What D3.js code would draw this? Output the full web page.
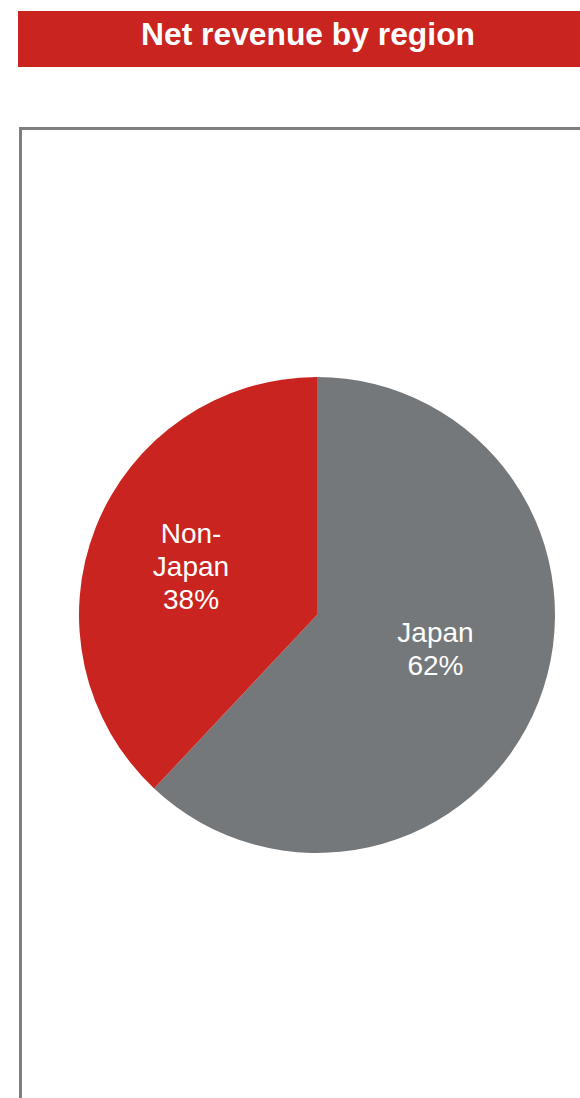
<!DOCTYPE html>
<html>
<head>
<meta charset="utf-8">
<script src="https://cdn.jsdelivr.net/npm/d3@7"></script>
<style>
  html, body { margin: 0; padding: 0; background: #fff; }
  svg { display: block; }
</style>
</head>
<body>
<svg id="chart" width="580" height="1098"></svg>
<script>
// Net revenue split by region (percent of total)
const regions = ["Japan", "Non-Japan"];
const shares = [62, 38];
const labelLines = [["Japan", "62%"], ["Non-", "Japan", "38%"]];
const sliceColors = ["#75787b", "#c9241f"];

const svg = d3.select("#chart");
const W = 580, H = 1098;
const FONT = "'Liberation Sans', Arial, Helvetica, sans-serif";

// Title banner
svg.append("rect")
  .attr("x", 18).attr("y", 11)
  .attr("width", W - 18).attr("height", 56)
  .attr("fill", "#c9241f");
svg.append("text")
  .attr("x", 308).attr("y", 44.5)
  .attr("text-anchor", "middle")
  .attr("font-family", FONT)
  .attr("font-weight", "bold")
  .attr("font-size", 31.8)
  .attr("fill", "#fff")
  .text("Net revenue by region");

// Panel frame (runs off the right and bottom edges)
svg.append("rect")
  .attr("x", 20.5).attr("y", 128.5)
  .attr("width", W + 10).attr("height", H + 10)
  .attr("fill", "none")
  .attr("stroke", "#7f807d")
  .attr("stroke-width", 3);

// Pie
const cx = 317, cy = 615, r = 238;
const data = regions.map((name, i) => ({ name, value: shares[i], lines: labelLines[i], color: sliceColors[i] }));
const pie = d3.pie().value(d => d.value).sort(null);
const arc = d3.arc().innerRadius(0).outerRadius(r);

const g = svg.append("g").attr("transform", `translate(${cx},${cy})`);
const arcs = pie(data);

g.selectAll("path.slice")
  .data(arcs)
  .join("path")
  .attr("class", "slice")
  .attr("d", arc)
  .attr("fill", d => d.data.color);

// Label anchor (centre x, middle baseline) inside each slice
const labelPos = [[118.5, 43], [-126, -39]];
const lineHeight = 33;
g.selectAll("text.lbl")
  .data(arcs)
  .join("text")
  .attr("class", "lbl")
  .attr("text-anchor", "middle")
  .attr("font-family", FONT)
  .attr("font-size", 28)
  .attr("fill", "#fff")
  .each(function(d, i) {
    const n = d.data.lines.length;
    const [x, y] = labelPos[i];
    d3.select(this).selectAll("tspan")
      .data(d.data.lines)
      .join("tspan")
      .attr("x", x)
      .attr("y", (t, j) => y + (j - (n - 1) / 2) * lineHeight)
      .text(t => t);
  });
</script>
</body>
</html>
